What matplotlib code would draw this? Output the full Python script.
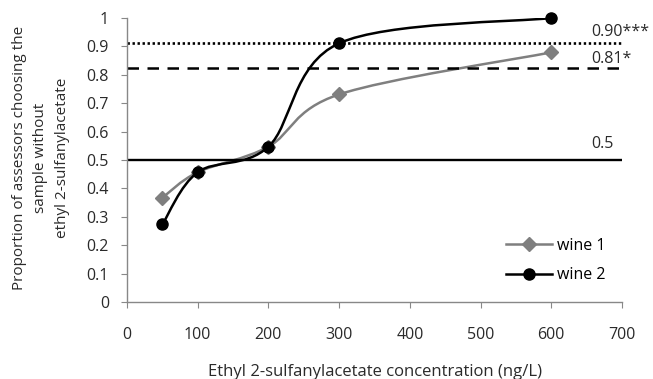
import matplotlib
matplotlib.use("Agg")
import matplotlib.pyplot as plt
from matplotlib.path import Path
from matplotlib.patches import PathPatch
from matplotlib.lines import Line2D

plt.rcParams['font.family'] = ['Open Sans', 'DejaVu Sans']

conc = [50, 100, 200, 300, 600]
wine1 = [0.367, 0.457, 0.547, 0.731, 0.879]
wine2 = [0.273, 0.457, 0.547, 0.911, 1.0]
thresholds = [0.5, 0.823, 0.911]
threshold_labels = ["0.5", "0.81*", "0.90***"]
x_ticks = [0, 100, 200, 300, 400, 500, 600, 700]
y_ticks = [0, 0.1, 0.2, 0.3, 0.4, 0.5, 0.6, 0.7, 0.8, 0.9, 1]
y_tick_labels = ["0", "0.1", "0.2", "0.3", "0.4", "0.5", "0.6", "0.7", "0.8", "0.9", "1"]


def smooth_path(xs, ys):
    pts = list(zip(xs, ys))
    n = len(pts)
    verts = [pts[0]]
    codes = [Path.MOVETO]
    for i in range(n - 1):
        p0 = pts[i - 1] if i > 0 else pts[i]
        p1 = pts[i]
        p2 = pts[i + 1]
        p3 = pts[i + 2] if i + 2 < n else pts[i + 1]
        c1 = (p1[0] + (p2[0] - p0[0]) / 6, p1[1] + (p2[1] - p0[1]) / 6)
        c2 = (p2[0] - (p3[0] - p1[0]) / 6, p2[1] - (p3[1] - p1[1]) / 6)
        verts += [c1, c2, p2]
        codes += [Path.CURVE4] * 3
    return Path(verts, codes)


FS = 11.5
TXT = '#2a2a2a'

fig = plt.figure(figsize=(6.53, 3.79), dpi=100)
ax = fig.add_axes([0.1945, 0.2032, 0.758, 0.7493])

ax.set_xlim(0, 700)
ax.set_ylim(0, 1)

# threshold lines
ax.plot([0, 700], [thresholds[0]] * 2, color='black', lw=1.7, solid_capstyle='butt')
ax.plot([0, 700], [thresholds[1]] * 2, color='black', lw=1.8, dashes=(4.6, 3.4))
ax.plot([0, 700], [thresholds[2]] * 2, color='black', lw=1.9, linestyle=(0, (0.9, 1.0)))

for y, lab, dy in zip(thresholds, threshold_labels, [0.056, 0.032, 0.039]):
    ax.text(656, y + dy, lab, fontsize=FS, color=TXT, va='center', ha='left', clip_on=False)

# series
for ys, col, mk, ms in [(wine1, '#7f7f7f', 'D', 7.5), (wine2, 'black', 'o', 8)]:
    patch = PathPatch(smooth_path(conc, ys), facecolor='none', edgecolor=col, lw=1.8)
    ax.add_patch(patch)
    ax.plot(conc, ys, linestyle='none', marker=mk, color=col, markersize=ms, zorder=5, clip_on=False)

handles = [Line2D([], [], color='#7f7f7f', lw=1.8, marker='D', markersize=7.5),
           Line2D([], [], color='black', lw=1.8, marker='o', markersize=8)]
ax.legend(handles, ['wine 1', 'wine 2'], loc='lower right', bbox_to_anchor=(0.995, 0.015), frameon=False,
          fontsize=FS, handlelength=2.9, labelspacing=0.85, handletextpad=0.3)

ax.set_xticks(x_ticks)
ax.set_yticks(y_ticks)
ax.set_yticklabels(y_tick_labels)
for s in ['top', 'right']:
    ax.spines[s].set_visible(False)
for s in ['left', 'bottom']:
    ax.spines[s].set_color('#888888')
    ax.spines[s].set_linewidth(1.0)
ax.tick_params(axis='both', direction='out', length=4, color='#888888', labelsize=FS,
               labelcolor=TXT)
ax.tick_params(axis='y', pad=9)
ax.tick_params(axis='x', pad=14)

fig.text(374.5 / 653, 1 - 376 / 379, 'Ethyl 2-sulfanylacetate concentration (ng/L)', fontsize=12,
         color=TXT, ha='center', va='baseline')
fig.text(41 / 653, 1 - 157.5 / 379, 'Proportion of assessors choosing the\nsample without\nethyl 2-sulfanylacetate',
         fontsize=11, color=TXT, rotation=90, ha='center', va='center', multialignment='center',
         linespacing=1.55)

fig.savefig('out.png', dpi=100)
